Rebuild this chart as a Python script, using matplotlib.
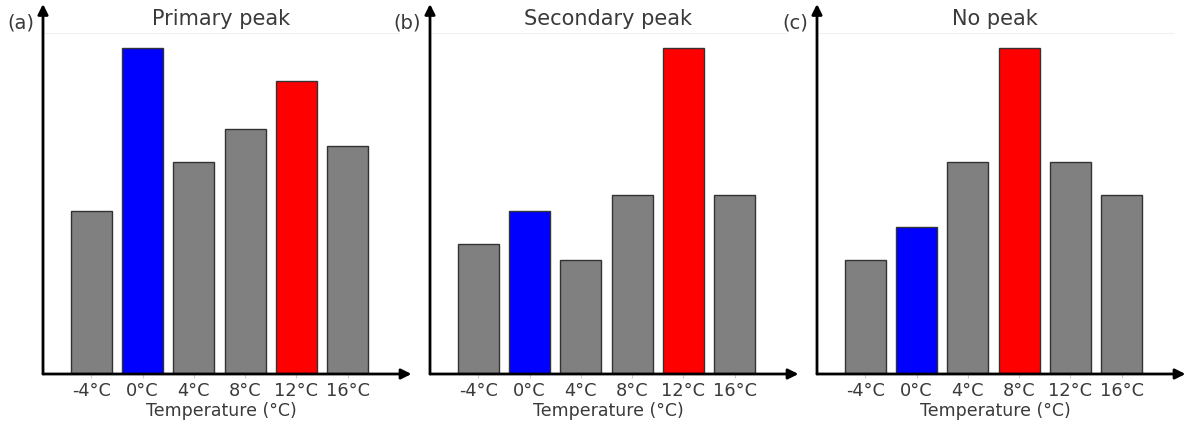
#!/usr/bin/env python3
# three peak panels

import matplotlib.pyplot as plt

temps = ["-4°C", "0°C", "4°C", "8°C", "12°C", "16°C"]

primary = [5, 10, 6.5, 7.5, 9, 7]
secondary = [4, 5, 3.5, 5.5, 10, 5.5]
no_peak = [3.5, 4.5, 6.5, 10, 6.5, 5.5]

titles = ["Primary peak", "Secondary peak", "No peak"]
letters = ["(a)", "(b)", "(c)"]
blue_idx = [1, 1, 1]
red_idx = [4, 4, 3]

text_col = "#3a3a3a"


def draw_panel(ax, values, title, letter, bi, ri):
    colors = ["#808080"] * len(values)
    colors[bi] = "#0000ff"
    colors[ri] = "#ff0000"
    x = range(len(values))
    ax.bar(x, values, width=0.8, color=colors, edgecolor="#333333", linewidth=1)
    ax.set_xlim(-0.94, 6.0)
    ax.set_ylim(0, 10.46)
    ax.set_xticks(list(x))
    ax.set_xticklabels(temps, fontsize=12.8, color=text_col)
    ax.tick_params(axis="x", length=3, color="#cccccc", pad=3)
    ax.set_yticks([])
    ax.set_xlabel("Temperature (°C)", fontsize=12.5, color=text_col, labelpad=1)
    ax.set_title(title, fontsize=15, color=text_col, pad=6)
    for s in ["left", "bottom", "right"]:
        ax.spines[s].set_visible(False)
    ax.spines["top"].set_color("#f0f0f0")

    # axis arrows
    ax.annotate("", xy=(1.035, 0), xytext=(0, 0), xycoords="axes fraction",
                arrowprops=dict(arrowstyle="-|>", color="black", lw=2,
                                mutation_scale=15, shrinkA=0, shrinkB=0),
                annotation_clip=False)
    ax.annotate("", xy=(0, 1.085), xytext=(0, 0), xycoords="axes fraction",
                arrowprops=dict(arrowstyle="-|>", color="black", lw=2,
                                mutation_scale=15, shrinkA=0, shrinkB=0),
                annotation_clip=False)
    ax.text(-0.025, 1.028, letter, transform=ax.transAxes, ha="right",
            va="center", fontsize=14, color=text_col)


def main():
    fig = plt.figure(figsize=(11.91, 4.25), dpi=100)
    W, H = 1191, 425
    lefts = [43, 430, 817]
    width = 356
    bottom = (H - 374) / H
    height = (374 - 33) / H
    data = [primary, secondary, no_peak]
    for i in range(3):
        ax = fig.add_axes([lefts[i] / W, bottom, width / W, height])
        draw_panel(ax, data[i], titles[i], letters[i], blue_idx[i], red_idx[i])
    fig.savefig("out.png", dpi=100)


if __name__ == "__main__":
    main()
